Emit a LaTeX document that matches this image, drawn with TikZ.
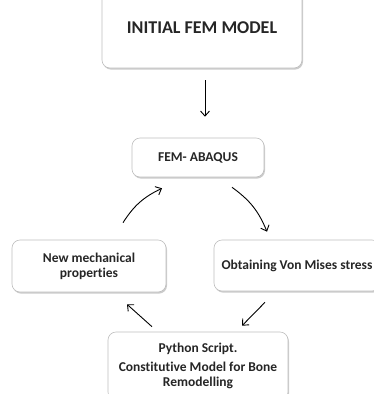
\documentclass[tikz,border=0pt]{standalone}
\usepackage{fontspec}
\setmainfont[Ligatures=NoCommon]{Carlito}
\usetikzlibrary{arrows.meta,shadows}
\tikzset{
  stagebox/.style={draw=black!25, line width=0.6pt, fill=white, rounded corners=8pt,
    drop shadow={shadow xshift=1pt, shadow yshift=-1.6pt, fill=black!45, opacity=0.45},
    font=\bfseries\fontsize{13.5}{15}\selectfont, text=black!85, align=center, inner sep=2pt},
  flowarrow/.style={line width=0.9pt, -{Straight Barb[length=5pt,width=9pt]}}
}
\begin{document}
\begin{tikzpicture}[x=1pt,y=1pt,yscale=-1,xscale=1]
\useasboundingbox (0,0) rectangle (374,394);

\node[stagebox, minimum width=200pt, minimum height=80pt, font=\bfseries\fontsize{18}{20}\selectfont] (init) at (202,28) {INITIAL FEM MODEL};
\node[stagebox, minimum width=132pt, minimum height=39pt] (abaqus) at (198,157.5) {FEM- ABAQUS};
\node[stagebox, minimum width=154pt, minimum height=52pt] (newmech) at (89,266) {New mechanical\\properties};
\node[stagebox, minimum width=166pt, minimum height=51pt] (obtain) at (297,265.5) {Obtaining Von Mises stress};
\node[stagebox, minimum width=180pt, minimum height=68pt] (python) at (198,366) {Python Script.\\[4pt]Constitutive Model for Bone\\Remodelling};

% yshift follows yscale=-1: positive is down, and bends are mirrored
\draw[flowarrow, shorten <=12pt, shorten >=21pt] ([xshift=3pt]init.south) -- ([xshift=7pt]abaqus.north);
\draw[flowarrow] ([xshift=34pt,yshift=10pt]abaqus.south) to[bend right=16] ([xshift=-30pt,yshift=-8pt]obtain.north);
\draw[flowarrow] ([xshift=-32pt,yshift=11pt]obtain.south) -- ([xshift=44pt,yshift=-6pt]python.north);
\draw[flowarrow] ([xshift=-46pt,yshift=-5pt]python.north) -- ([xshift=38pt,yshift=12pt]newmech.south);
\draw[flowarrow] ([xshift=34pt,yshift=-17pt]newmech.north) to[bend right=16] ([xshift=-36pt,yshift=11pt]abaqus.south);
\end{tikzpicture}
\end{document}
